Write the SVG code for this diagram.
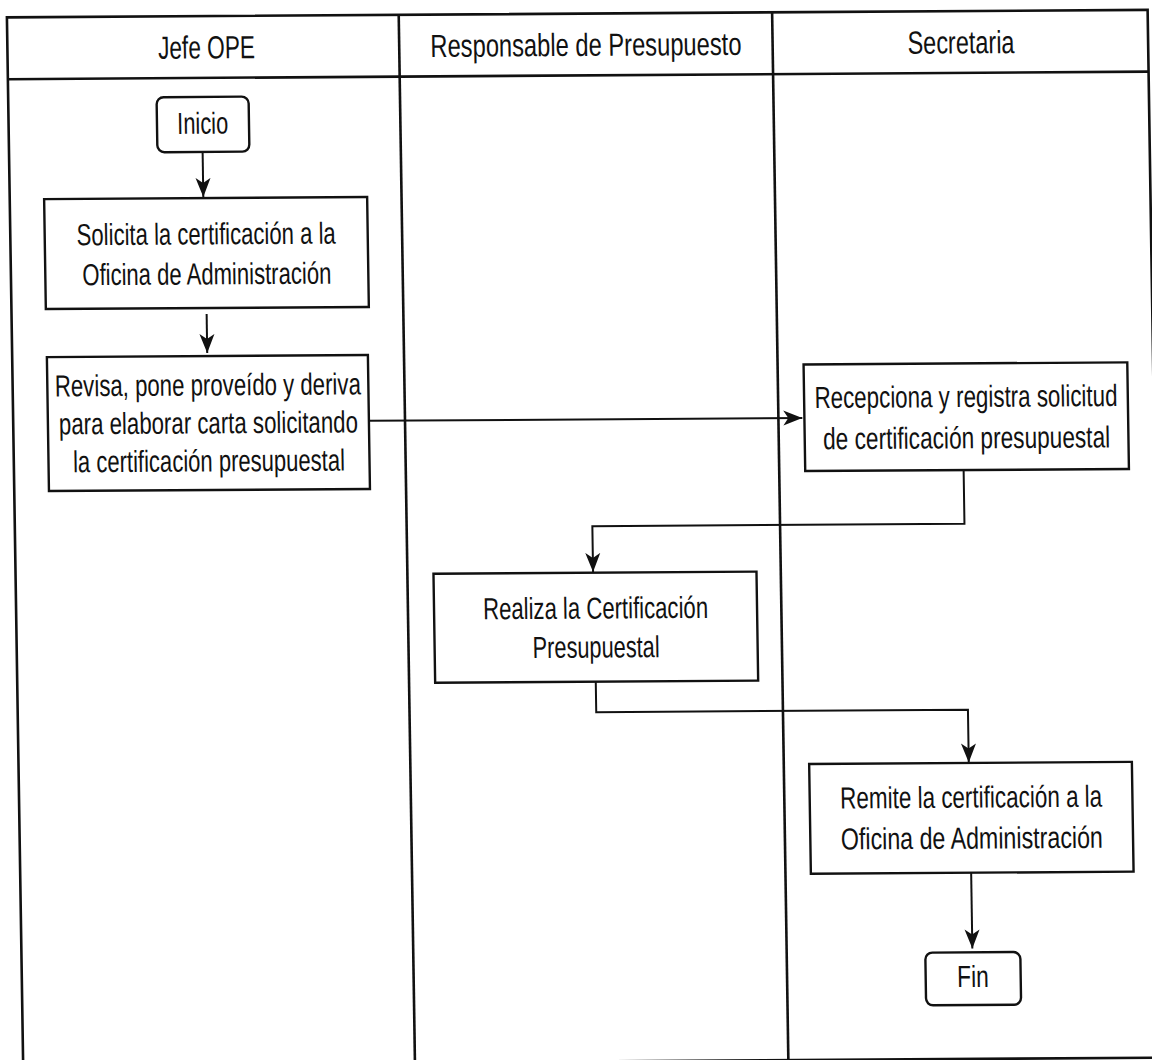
<svg xmlns="http://www.w3.org/2000/svg" width="1152" height="1060" viewBox="0 0 1152 1060">
<style>
.lane{fill:none;stroke:#111;stroke-width:2.6}
.box{fill:#fff;stroke:#111;stroke-width:2.4}
.conn{fill:none;stroke:#111;stroke-width:2}
text{font-family:"Liberation Sans Narrow","Arial Narrow","Liberation Sans",Arial,sans-serif;fill:#111;text-anchor:middle}
.h{font-size:32px}
.t{font-size:30.5px}
</style>
<defs>
<marker id="ah" viewBox="0 0 20 16" refX="19" refY="8" markerWidth="20" markerHeight="16" markerUnits="userSpaceOnUse" orient="auto">
<path d="M0,0.5 L19,8 L0,15.5 L5,8 Z" fill="#111"/>
</marker>
</defs>
<rect width="1152" height="1060" fill="#fff"/>
<g transform="matrix(1,-0.0066,0.0155,1,-8.2,3.8)">
<g id="lanes">
<rect class="lane" x="14.9" y="13.7" width="1140.7" height="1047.8"/>
<line class="lane" x1="14.9" y1="75.5" x2="1155.6" y2="75.5"/>
<line class="lane" x1="406.7" y1="13.7" x2="406.7" y2="1061.5"/>
<line class="lane" x1="780.1" y1="13.7" x2="780.1" y2="1061.5"/>
<text class="h" x="214" y="56" textLength="97" lengthAdjust="spacingAndGlyphs">Jefe OPE</text>
<text class="h" x="593.4" y="56" textLength="311" lengthAdjust="spacingAndGlyphs">Responsable de Presupuesto</text>
<text class="h" x="968.5" y="56" textLength="107" lengthAdjust="spacingAndGlyphs">Secretaria</text>
</g>
<g id="connectors">
<path class="conn" d="M208.5,149.5 V194.5" marker-end="url(#ah)"/>
<path class="conn" d="M210,311.6 V350.6" marker-end="url(#ah)"/>
<path class="conn" d="M370.6,419.5 H804" marker-end="url(#ah)"/>
<path class="conn" d="M964.5,472.6 V526.3 H592.4 V572" marker-end="url(#ah)"/>
<path class="conn" d="M593.4,681.8 V712.3 H965.1 V765" marker-end="url(#ah)"/>
<path class="conn" d="M965.8,875.3 V951" marker-end="url(#ah)"/>
</g>
<g id="inicio">
<rect class="box" x="163.3" y="94.5" width="92" height="55" rx="7"/>
<text class="t" x="209" y="131.3" textLength="51" lengthAdjust="spacingAndGlyphs">Inicio</text>
</g>
<g id="solicita">
<rect class="box" x="49.3" y="195.6" width="323" height="110"/>
<text class="t" x="210.8" y="242" textLength="259" lengthAdjust="spacingAndGlyphs">Solicita la certificación a la</text>
<text class="t" x="210.8" y="282" textLength="249" lengthAdjust="spacingAndGlyphs">Oficina de Administración</text>
</g>
<g id="revisa">
<rect class="box" x="49.6" y="353.6" width="321" height="134"/>
<text class="t" x="210.1" y="393" textLength="306" lengthAdjust="spacingAndGlyphs">Revisa, pone proveído y deriva</text>
<text class="t" x="210.1" y="431" textLength="299" lengthAdjust="spacingAndGlyphs">para elaborar carta solicitando</text>
<text class="t" x="210.1" y="469" textLength="272" lengthAdjust="spacingAndGlyphs">la certificación presupuestal</text>
</g>
<g id="recepciona">
<rect class="box" x="806.1" y="366" width="323.7" height="106.6"/>
<text class="t" x="968" y="409.6" textLength="303" lengthAdjust="spacingAndGlyphs">Recepciona y registra solicitud</text>
<text class="t" x="968" y="450.9" textLength="287" lengthAdjust="spacingAndGlyphs">de certificación presupuestal</text>
</g>
<g id="realiza">
<rect class="box" x="432.8" y="572.8" width="323" height="109"/>
<text class="t" x="594.3" y="618.7" textLength="225" lengthAdjust="spacingAndGlyphs">Realiza la Certificación</text>
<text class="t" x="594.3" y="657.7" textLength="127" lengthAdjust="spacingAndGlyphs">Presupuestal</text>
</g>
<g id="remite">
<rect class="box" x="805.5" y="765.5" width="322.7" height="109.8"/>
<text class="t" x="967" y="810.2" textLength="262" lengthAdjust="spacingAndGlyphs">Remite la certificación a la</text>
<text class="t" x="967" y="851.2" textLength="262" lengthAdjust="spacingAndGlyphs">Oficina de Administración</text>
</g>
<g id="fin">
<rect class="box" x="918.7" y="954.9" width="95" height="52.7" rx="7"/>
<text class="t" x="966" y="989.6" textLength="31.6" lengthAdjust="spacingAndGlyphs">Fin</text>
</g>
</g>
</svg>
